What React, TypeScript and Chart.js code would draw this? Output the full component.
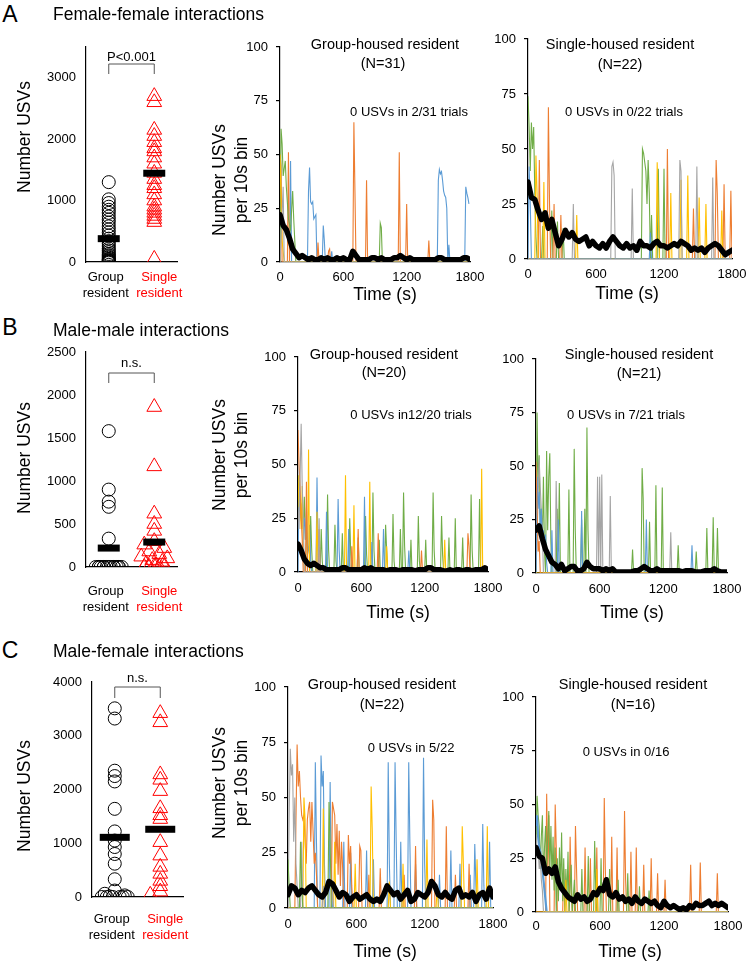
import React, { useEffect, useRef } from "react";
import { Chart, registerables } from "chart.js";

Chart.register(...registerables);

const FONT = '"Liberation Sans", Arial, Helvetica, sans-serif';
Chart.defaults.font.family = FONT;
Chart.defaults.color = "#000";

const C_BLUE = "#5B9BD5";
const C_ORANGE = "#ED7D31";
const C_GRAY = "#A5A5A5";
const C_YELLOW = "#FFC000";
const C_GREEN = "#70AD47";

// ---------- scatter (total USVs per trial) ----------
const GROUP_LABEL = ["Group", "resident"];
const SINGLE_LABEL = ["Single", "resident"];

const A_Y_TICKS = [0, 1000, 2000, 3000];
const B_Y_TICKS = [0, 500, 1000, 1500, 2000, 2500];
const C_Y_TICKS = [0, 1000, 2000, 3000, 4000];
const T_X_TICKS = [0, 600, 1200, 1800];
const T_Y_TICKS = [0, 25, 50, 75, 100];

const A_GROUP = [1300, 1020, 960, 900, 850, 800, 740, 690, 640, 580, 530, 480, 430, 380, 340, 300, 260, 220, 190, 160, 130, 110, 90, 70, 50, 40, 30, 20, 10, 0, 0];
const A_SINGLE = [2700, 2600, 2150, 2050, 1950, 1850, 1800, 1700, 1600, 1450, 1350, 1250, 1200, 1100, 1000, 900, 850, 800, 750, 700, 650, 50];
const A_GROUP_MEAN = 380;
const A_SINGLE_MEAN = 1445;

const B_GROUP = [1580, 900, 760, 700, 330, 0, 0, 0, 0, 0, 0, 0, 0, 0, 0, 0, 0, 0, 0, 0];
const B_SINGLE = [1860, 1170, 620, 500, 420, 300, 260, 220, 180, 150, 120, 100, 80, 60, 40, 20, 10, 0, 0, 0, 0];
const B_GROUP_MEAN = 220;
const B_SINGLE_MEAN = 290;

const C_GROUP = [3510, 3320, 2350, 2250, 2150, 1640, 1220, 1050, 930, 800, 620, 330, 120, 60, 30, 10, 0, 0, 0, 0, 0, 0];
const C_SINGLE = [3420, 3250, 2280, 2180, 1970, 1650, 1520, 1450, 1020, 770, 560, 430, 300, 200, 100, 40];
const C_GROUP_MEAN = 1110;
const C_SINGLE_MEAN = 1260;

// ---------- time courses (USVs per 10 s bin) ----------
const BIN_T = [0, 30, 60, 90, 120, 150, 180, 210, 240, 270, 300, 330, 360, 390, 420, 450, 480, 510, 540, 570, 600, 630, 660, 690, 720, 750, 780, 810, 840, 870, 900, 930, 960, 990, 1020, 1050, 1080, 1110, 1140, 1170, 1200, 1230, 1260, 1290, 1320, 1350, 1380, 1410, 1440, 1470, 1500, 1530, 1560, 1590, 1620, 1650, 1680, 1710, 1740, 1770, 1800];

const A1_MEAN = [22, 17, 15, 11, 6, 4, 2, 3, 2, 1, 2, 1, 1, 2, 1, 2, 1, 1, 2, 1, 2, 1, 1, 5, 3, 1, 1, 1, 1, 2, 2, 1, 2, 1, 1, 1, 2, 2, 3, 2, 1, 2, 1, 1, 1, 1, 1, 1, 1, 1, 2, 2, 1, 1, 1, 1, 1, 1, 2, 2, 1];
const A2_MEAN = [35, 28, 27, 22, 18, 21, 14, 18, 12, 6, 9, 13, 10, 12, 9, 8, 9, 10, 6, 8, 6, 5, 7, 5, 8, 10, 8, 6, 5, 7, 5, 6, 4, 8, 6, 6, 5, 7, 8, 6, 6, 5, 6, 7, 6, 8, 7, 6, 4, 5, 4, 5, 3, 5, 6, 7, 6, 4, 2, 3, 4];
const B1_MEAN = [13, 10, 6, 4, 3, 4, 3, 2, 2, 1, 1, 1, 1, 1, 2, 2, 1, 1, 1, 1, 1, 2, 1, 2, 1, 1, 1, 1, 0.5, 1, 1, 1, 0.5, 1, 1, 1, 1, 0.5, 1, 1, 1, 2, 2, 1, 1, 1, 0.5, 0.5, 1, 0.5, 1, 1, 0.5, 1, 1, 0.5, 1, 1, 1, 2, 1];
const B2_MEAN = [20, 22, 16, 11, 8, 5, 4, 2, 4, 1, 2, 3, 3, 1, 1, 2, 5, 3, 2, 2, 2, 1, 2, 1, 2, 0.5, 0.5, 0.5, 0.5, 0.5, 0.5, 1, 1, 2, 3, 2, 1, 1, 2, 1, 1, 1, 1, 1, 1, 1, 0.5, 1, 1, 1, 0.5, 0.5, 0.5, 1, 1, 1, 2, 1, 0.5, 0.5, 0.5];
const C1_MEAN = [6, 10, 9, 6, 8, 7, 9, 10, 8, 6, 5, 7, 12, 11, 8, 5, 7, 6, 3, 5, 6, 4, 5, 6, 4, 3, 4, 3, 6, 10, 8, 6, 7, 4, 6, 8, 3, 4, 7, 6, 5, 7, 12, 10, 6, 5, 7, 5, 4, 8, 9, 5, 6, 5, 7, 3, 6, 7, 4, 9, 5];
const C2_MEAN = [30, 26, 25, 18, 20, 18, 21, 14, 11, 9, 7, 6, 5, 8, 6, 7, 5, 6, 9, 8, 11, 10, 15, 8, 7, 9, 6, 7, 5, 6, 4, 7, 5, 4, 6, 5, 4, 5, 3, 2, 5, 3, 2, 3, 2, 1, 2, 1, 3, 2, 4, 3, 3, 4, 5, 3, 4, 3, 4, 3, 2];

// individual trials: [time, count, time, count, ...]
const A1_ORANGE = [0, 50, 10, 45, 20, 0, 70, 0, 80, 51, 90, 0, 350, 0, 360, 9, 370, 0, 450, 0, 460, 5, 470, 6, 480, 0, 690, 0, 700, 65, 710, 33, 720, 0, 810, 0, 820, 38, 830, 0, 1120, 0, 1130, 51, 1140, 0, 1190, 0, 1200, 27, 1210, 0, 1400, 0, 1410, 10, 1420, 0, 1800, 0];
const A1_BLUE = [0, 0, 90, 0, 100, 47, 110, 0, 260, 0, 270, 33, 280, 44, 290, 28, 300, 27, 310, 28, 320, 20, 340, 22, 350, 0, 400, 0, 410, 17, 420, 10, 430, 0, 480, 0, 490, 5, 500, 0, 1490, 0, 1500, 38, 1510, 43, 1520, 41, 1530, 42, 1540, 38, 1550, 33, 1560, 31, 1570, 30, 1580, 25, 1590, 0, 1600, 8, 1610, 0, 1750, 0, 1760, 35, 1770, 32, 1780, 30, 1790, 27];
const A1_GREEN = [0, 0, 10, 62, 20, 55, 30, 40, 50, 47, 60, 35, 80, 20, 100, 15, 120, 33, 130, 20, 150, 0, 940, 0, 950, 18, 960, 16, 970, 0, 1800, 0];
const A1_YELLOW = [0, 50, 10, 30, 20, 10, 40, 0, 1800, 0];
const A1_GRAY = [0, 0, 30, 35, 40, 0, 1800, 0];

const A2_GREEN = [0, 74, 10, 60, 20, 40, 30, 62, 40, 50, 50, 60, 60, 30, 70, 10, 80, 0, 120, 0, 130, 15, 140, 0, 200, 0, 210, 22, 220, 0, 250, 0, 260, 17, 270, 0, 300, 0, 310, 14, 320, 0, 1000, 0, 1010, 50, 1020, 48, 1030, 44, 1040, 40, 1050, 25, 1060, 45, 1070, 30, 1080, 0, 1090, 20, 1100, 0, 1140, 0, 1150, 41, 1160, 0, 1190, 0, 1200, 41, 1210, 0, 1800, 0];
const A2_ORANGE = [0, 0, 90, 0, 100, 45, 110, 0, 170, 0, 180, 69, 190, 25, 200, 0, 220, 0, 230, 25, 240, 0, 280, 0, 290, 20, 300, 0, 1220, 0, 1230, 50, 1240, 0, 1450, 0, 1460, 23, 1470, 0, 1650, 0, 1660, 45, 1670, 30, 1680, 0, 1720, 0, 1730, 34, 1740, 0, 1780, 0, 1790, 31, 1800, 0];
const A2_YELLOW = [0, 0, 60, 0, 70, 47, 80, 30, 90, 0, 130, 0, 140, 35, 150, 0, 420, 0, 430, 20, 440, 0, 1130, 0, 1140, 44, 1150, 20, 1160, 0, 1250, 0, 1260, 30, 1270, 0, 1340, 0, 1350, 36, 1360, 0, 1400, 0, 1410, 38, 1420, 0, 1500, 0, 1510, 28, 1520, 0, 1560, 0, 1570, 25, 1580, 0, 1700, 0, 1710, 22, 1720, 0, 1800, 0];
const A2_GRAY = [0, 0, 390, 0, 400, 25, 410, 0, 730, 0, 740, 42, 750, 44, 760, 38, 770, 0, 910, 0, 920, 32, 930, 0, 1330, 0, 1340, 45, 1350, 40, 1360, 0, 1480, 0, 1490, 42, 1500, 0, 1620, 0, 1630, 37, 1640, 0, 1800, 0];
const A2_BLUE = [0, 0, 10, 42, 20, 25, 30, 0, 1070, 0, 1080, 12, 1090, 0, 1800, 0];

const B1_GRAY = [0, 30, 10, 20, 30, 69, 40, 40, 50, 25, 60, 0, 190, 0, 200, 25, 210, 0, 1800, 0];
const B1_ORANGE = [0, 66, 10, 50, 20, 40, 30, 25, 40, 15, 50, 0, 70, 0, 80, 42, 90, 0, 190, 0, 200, 20, 210, 0, 500, 0, 510, 12, 520, 0, 560, 0, 570, 20, 580, 0, 750, 0, 760, 18, 770, 0, 1160, 0, 1170, 10, 1180, 0, 1600, 0, 1610, 18, 1620, 12, 1630, 0, 1800, 0];
const B1_YELLOW = [0, 45, 10, 30, 20, 35, 30, 20, 40, 40, 50, 10, 60, 0, 90, 0, 100, 57, 110, 0, 170, 0, 180, 28, 190, 0, 440, 0, 450, 45, 460, 0, 520, 0, 530, 31, 540, 0, 670, 0, 680, 42, 690, 0, 830, 0, 840, 12, 850, 0, 1380, 0, 1390, 15, 1400, 0, 1730, 0, 1740, 48, 1750, 0, 1800, 0];
const B1_BLUE = [0, 0, 10, 40, 20, 30, 30, 25, 40, 32, 50, 20, 60, 25, 70, 15, 80, 30, 90, 12, 100, 10, 110, 22, 120, 5, 130, 0, 170, 0, 180, 44, 190, 10, 200, 0, 260, 0, 270, 28, 280, 0, 370, 0, 380, 34, 390, 10, 400, 0, 470, 0, 480, 20, 490, 0, 620, 0, 630, 35, 640, 0, 690, 0, 700, 14, 710, 0, 800, 0, 810, 20, 820, 0, 1040, 0, 1050, 10, 1060, 0, 1800, 0];
const B1_GREEN = [0, 25, 10, 45, 20, 30, 30, 25, 40, 28, 50, 20, 60, 35, 70, 15, 80, 20, 90, 0, 110, 0, 120, 26, 130, 10, 140, 0, 210, 0, 220, 20, 230, 5, 240, 0, 270, 0, 280, 36, 290, 10, 300, 0, 340, 0, 350, 22, 360, 5, 370, 0, 410, 0, 420, 18, 430, 0, 480, 0, 490, 25, 500, 8, 510, 0, 560, 0, 570, 16, 580, 0, 630, 0, 640, 26, 650, 8, 660, 0, 700, 0, 710, 37, 720, 10, 730, 0, 760, 0, 770, 15, 780, 0, 820, 0, 830, 22, 840, 10, 850, 0, 890, 0, 900, 27, 910, 5, 920, 0, 960, 0, 970, 20, 980, 0, 990, 0, 1000, 37, 1010, 12, 1020, 0, 1060, 0, 1070, 15, 1080, 0, 1130, 0, 1140, 26, 1150, 5, 1160, 0, 1200, 0, 1210, 15, 1220, 0, 1270, 0, 1280, 37, 1290, 10, 1300, 0, 1350, 0, 1360, 26, 1370, 8, 1380, 0, 1420, 0, 1430, 16, 1440, 0, 1480, 0, 1490, 25, 1500, 0, 1550, 0, 1560, 16, 1570, 0, 1630, 0, 1640, 36, 1650, 10, 1660, 0, 1710, 0, 1720, 34, 1730, 0, 1800, 0];

const B2_GREEN = [0, 0, 10, 75, 20, 40, 30, 55, 40, 20, 50, 30, 60, 15, 70, 45, 80, 10, 90, 0, 100, 57, 110, 20, 120, 45, 130, 56, 140, 15, 150, 0, 190, 0, 200, 30, 210, 10, 220, 42, 230, 0, 300, 0, 310, 39, 320, 0, 350, 0, 360, 58, 370, 20, 380, 0, 420, 0, 430, 25, 440, 0, 450, 0, 460, 30, 470, 0, 480, 68, 490, 20, 500, 0, 900, 0, 910, 11, 920, 0, 990, 0, 1000, 49, 1010, 35, 1020, 0, 1060, 0, 1070, 24, 1080, 0, 1120, 0, 1130, 41, 1140, 0, 1180, 0, 1190, 40, 1200, 0, 1330, 0, 1340, 13, 1350, 0, 1500, 0, 1510, 10, 1520, 0, 1600, 0, 1610, 21, 1620, 0, 1660, 0, 1670, 26, 1680, 0, 1700, 0, 1710, 21, 1720, 0, 1800, 0];
const B2_GRAY = [0, 0, 30, 53, 40, 40, 50, 30, 60, 20, 70, 0, 180, 0, 190, 43, 200, 20, 210, 0, 570, 0, 580, 45, 590, 0, 600, 45, 610, 0, 620, 46, 630, 0, 690, 0, 700, 36, 710, 0, 1260, 0, 1270, 19, 1280, 0, 1800, 0];
const B2_ORANGE = [0, 52, 10, 30, 20, 10, 30, 15, 40, 0, 1800, 0];
const B2_BLUE = [0, 0, 10, 45, 20, 30, 30, 38, 40, 20, 50, 30, 60, 15, 70, 20, 80, 10, 90, 18, 100, 5, 110, 0, 140, 0, 150, 20, 160, 0, 200, 0, 210, 25, 220, 0, 420, 0, 430, 29, 440, 0, 1030, 0, 1040, 25, 1050, 0, 1460, 0, 1470, 13, 1480, 0, 1800, 0];
const B2_YELLOW = [0, 0, 1800, 0];

const C1_GRAY = [0, 0, 10, 40, 20, 72, 30, 60, 40, 65, 50, 30, 60, 50, 70, 20, 80, 10, 90, 0, 110, 0, 120, 30, 130, 0, 300, 0, 310, 10, 320, 0, 380, 0, 390, 8, 400, 0, 1800, 0];
const C1_ORANGE = [0, 0, 60, 0, 70, 40, 80, 74, 90, 55, 100, 62, 110, 50, 120, 42, 130, 40, 140, 42, 150, 30, 160, 20, 170, 40, 180, 45, 190, 48, 200, 30, 210, 48, 220, 35, 230, 20, 240, 25, 250, 15, 260, 0, 380, 0, 390, 48, 400, 45, 410, 42, 420, 20, 430, 38, 440, 15, 450, 35, 460, 10, 470, 30, 480, 18, 490, 0, 520, 0, 530, 33, 540, 20, 550, 28, 560, 10, 570, 0, 620, 0, 630, 28, 640, 26, 650, 0, 700, 0, 710, 15, 720, 0, 800, 0, 810, 18, 820, 0, 1010, 0, 1020, 15, 1030, 0, 1110, 0, 1120, 28, 1130, 0, 1260, 0, 1270, 49, 1280, 40, 1290, 0, 1380, 0, 1390, 37, 1400, 0, 1460, 0, 1470, 15, 1480, 0, 1580, 0, 1590, 20, 1600, 0, 1800, 0];
const C1_BLUE = [0, 0, 230, 0, 240, 66, 250, 30, 260, 0, 280, 0, 290, 69, 300, 55, 310, 62, 320, 20, 330, 0, 360, 0, 370, 57, 380, 20, 390, 0, 480, 0, 490, 30, 500, 0, 540, 0, 550, 25, 560, 0, 680, 0, 690, 26, 700, 0, 740, 0, 750, 22, 760, 0, 870, 0, 880, 66, 890, 20, 900, 0, 930, 0, 940, 66, 950, 30, 960, 0, 980, 0, 990, 30, 1000, 0, 1050, 0, 1060, 66, 1070, 30, 1080, 0, 1110, 0, 1120, 20, 1130, 0, 1180, 0, 1190, 68, 1200, 20, 1210, 0, 1320, 0, 1330, 15, 1340, 0, 1420, 0, 1430, 26, 1440, 0, 1500, 0, 1510, 20, 1520, 0, 1590, 0, 1600, 15, 1610, 0, 1630, 0, 1640, 29, 1650, 10, 1660, 0, 1700, 0, 1710, 38, 1720, 10, 1730, 0, 1760, 0, 1770, 30, 1780, 0, 1800, 0];
const C1_YELLOW = [0, 0, 130, 0, 140, 50, 150, 40, 160, 0, 300, 0, 310, 45, 320, 0, 400, 0, 410, 30, 420, 0, 580, 0, 590, 20, 600, 0, 720, 0, 730, 55, 740, 35, 750, 0, 880, 0, 890, 12, 900, 0, 1000, 0, 1010, 20, 1020, 0, 1210, 0, 1220, 31, 1230, 0, 1300, 0, 1310, 10, 1320, 0, 1520, 0, 1530, 37, 1540, 20, 1550, 0, 1650, 0, 1660, 22, 1670, 0, 1740, 0, 1750, 37, 1760, 0, 1800, 0];
const C1_GREEN = [0, 22, 10, 10, 20, 0, 100, 0, 110, 30, 120, 10, 130, 0, 350, 0, 360, 48, 370, 30, 380, 0, 1800, 0];

const C2_BLUE = [0, 40, 10, 45, 20, 35, 30, 30, 40, 28, 50, 22, 60, 20, 70, 15, 80, 10, 90, 5, 100, 0, 1800, 0];
const C2_GRAY = [0, 36, 10, 25, 20, 30, 30, 20, 40, 25, 50, 15, 60, 10, 70, 0, 1800, 0];
const C2_GREEN = [0, 30, 10, 54, 20, 45, 30, 40, 40, 20, 50, 35, 60, 45, 70, 15, 80, 30, 90, 40, 100, 20, 110, 35, 120, 47, 130, 20, 140, 40, 150, 15, 160, 35, 170, 10, 180, 30, 190, 0, 200, 25, 210, 5, 220, 30, 230, 10, 240, 37, 250, 5, 260, 25, 270, 0, 280, 20, 290, 5, 300, 28, 310, 0, 330, 22, 340, 0, 360, 15, 370, 0, 420, 0, 430, 20, 440, 0, 480, 0, 490, 26, 500, 0, 540, 0, 550, 33, 560, 10, 570, 0, 600, 0, 610, 25, 620, 0, 680, 0, 690, 20, 700, 0, 760, 0, 770, 15, 780, 0, 850, 0, 860, 18, 870, 0, 960, 0, 970, 12, 980, 0, 1050, 0, 1060, 10, 1070, 0, 1800, 0];
const C2_ORANGE = [0, 0, 90, 0, 100, 55, 110, 20, 120, 45, 130, 0, 170, 0, 180, 50, 190, 30, 200, 0, 250, 0, 260, 20, 270, 0, 310, 0, 320, 35, 330, 10, 340, 0, 360, 0, 370, 40, 380, 20, 390, 0, 450, 0, 460, 30, 470, 0, 500, 0, 510, 25, 520, 0, 560, 0, 570, 30, 580, 0, 630, 0, 640, 53, 650, 20, 660, 0, 700, 0, 710, 35, 720, 0, 750, 0, 760, 30, 770, 0, 820, 0, 830, 47, 840, 15, 850, 0, 880, 0, 890, 28, 900, 0, 930, 0, 940, 30, 950, 0, 1000, 0, 1010, 22, 1020, 0, 1070, 0, 1080, 25, 1090, 0, 1130, 0, 1140, 18, 1150, 0, 1200, 0, 1210, 15, 1220, 0, 1440, 0, 1450, 22, 1460, 0, 1530, 0, 1540, 23, 1550, 0, 1690, 0, 1700, 18, 1710, 0, 1800, 0];
const C2_YELLOW = [0, 0, 270, 0, 280, 15, 290, 0, 560, 0, 570, 20, 580, 0, 1800, 0];

// ---------- helpers ----------
type Rect = { l: number; t: number; r: number; b: number };
type Box = { x: number; y: number; w: number; h: number };

function pairs(a: number[]) {
  const o: { x: number; y: number }[] = [];
  for (let i = 0; i + 1 < a.length; i += 2) o.push({ x: a[i], y: a[i + 1] });
  return o;
}

const plain = (v: any) => String(v);

const YW = 45, PT = 20, PR = 30, XH = 34;

function timeChart(rect: Rect, traces: [string, number[], number?][], mean: number[], xPad: number) {
  const box: Box = { x: rect.l - YW, y: rect.t - PT, w: rect.r - rect.l + YW + PR, h: rect.b - rect.t + PT + XH };
  const datasets: any[] = [
    {
      data: BIN_T.map((t, i) => ({ x: t, y: mean[i] })),
      borderColor: "#000",
      borderWidth: 5.5,
      borderJoinStyle: "round",
      borderCapStyle: "round",
    },
    ...traces.map(([color, pts, w]) => ({ data: pairs(pts), borderColor: color, borderWidth: w ?? 1.1 })),
  ].map((d) => ({ ...d, pointRadius: 0, fill: false, tension: 0 }));
  const config: any = {
    type: "line",
    data: { datasets },
    options: {
      animation: false,
      responsive: false,
      maintainAspectRatio: false,
      layout: { padding: { left: 0, top: PT, right: PR, bottom: 0 } },
      plugins: { legend: { display: false }, tooltip: { enabled: false } },
      scales: {
        x: {
          type: "linear",
          min: 0,
          max: 1800,
          afterBuildTicks: (s: any) => { s.ticks = T_X_TICKS.map((v) => ({ value: v })); },
          ticks: { padding: xPad, font: { size: 13 }, color: "#000", maxRotation: 0, autoSkip: false, callback: plain },
          grid: { display: false, drawTicks: false, tickLength: 0 },
          border: { display: true, color: "#000", width: 1.2 },
          afterFit: (s: any) => { s.height = XH; },
        },
        y: {
          type: "linear",
          min: 0,
          max: 100,
          afterBuildTicks: (s: any) => { s.ticks = T_Y_TICKS.map((v) => ({ value: v })); },
          ticks: { padding: 8, font: { size: 13 }, color: "#000", callback: plain },
          grid: { display: true, drawOnChartArea: false, drawTicks: true, tickLength: 4, color: "#000", lineWidth: 1.2 },
          border: { display: true, color: "#000", width: 1.2 },
          afterFit: (s: any) => { s.width = YW; },
        },
      },
    },
  };
  return { box, config };
}

const SYW = 52, SPT = 24, SPR = 34, SXH = 52;

const bracketPlugin = {
  id: "bracket",
  afterDraw(chart: any, _args: any, opts: any) {
    const { ctx, chartArea, scales } = chart;
    const x1 = scales.x.getPixelForValue(0.5);
    const x2 = scales.x.getPixelForValue(1.5);
    const yT = chartArea.top + opts.top;
    const yL = chartArea.top + opts.leg;
    ctx.save();
    ctx.strokeStyle = "#555";
    ctx.lineWidth = 1;
    ctx.beginPath();
    ctx.moveTo(x1, yL);
    ctx.lineTo(x1, yT);
    ctx.lineTo(x2, yT);
    ctx.lineTo(x2, yL);
    ctx.stroke();
    ctx.fillStyle = "#000";
    ctx.font = `13px ${FONT}`;
    ctx.textAlign = "center";
    ctx.textBaseline = "middle";
    ctx.fillText(opts.text, (x1 + x2) / 2, chartArea.top + opts.textY);
    ctx.restore();
  },
};

function scatterChart(
  rect: Rect,
  group: number[],
  single: number[],
  gMean: number,
  sMean: number,
  yTicks: number[],
  yMax: number,
  labelPad: number,
  barHalfPx: number,
  spreadBelow: number,
  bracket: { top: number; leg: number; textY: number; text: string }
) {
  const box: Box = { x: rect.l - SYW, y: rect.t - SPT, w: rect.r - rect.l + SYW + SPR, h: rect.b - rect.t + SPT + SXH };
  const u = 2 / (rect.r - rect.l);
  const spread = [0, -10, 10, -5, 5, -13, 13, -2, 8, -8, 2];
  const place = (vals: number[], cx: number) => {
    let k = 0;
    return vals.map((v) => {
      let dx = 0;
      if (v < spreadBelow) {
        dx = spread[k % spread.length];
        k++;
      }
      return { x: cx + dx * u, y: v };
    });
  };
  const bar = (cx: number, m: number) => ({
    data: [{ x: cx - barHalfPx * u, y: m }, { x: cx + barHalfPx * u, y: m }],
    showLine: true,
    borderColor: "#000",
    borderWidth: 7,
    borderCapStyle: "butt",
    pointRadius: 0,
  });
  const gLab = 0.5 - 3 * u;
  const sLab = 1.5 + 5 * u;
  const config: any = {
    type: "scatter",
    data: {
      datasets: [
        bar(0.5, gMean),
        bar(1.5, sMean),
        {
          data: place(group, 0.5),
          pointStyle: "circle",
          pointRadius: 6.5,
          borderColor: "#000",
          backgroundColor: "rgba(0,0,0,0)",
          borderWidth: 1,
          showLine: false,
        },
        {
          data: place(single, 1.5),
          pointStyle: "triangle",
          pointRadius: 8.5,
          borderColor: "#FF0000",
          backgroundColor: "rgba(0,0,0,0)",
          borderWidth: 1,
          showLine: false,
        },
      ],
    },
    options: {
      animation: false,
      responsive: false,
      maintainAspectRatio: false,
      layout: { padding: { left: 0, top: SPT, right: SPR, bottom: 0 } },
      plugins: { legend: { display: false }, tooltip: { enabled: false }, bracket },
      scales: {
        x: {
          type: "linear",
          min: 0,
          max: 2,
          afterBuildTicks: (s: any) => { s.ticks = [{ value: gLab }, { value: sLab }]; },
          ticks: {
            padding: labelPad,
            font: { size: 13 },
            color: (c: any) => (c.tick && c.tick.value > 1 ? "#FF0000" : "#000"),
            callback: (v: number) => (v < 1 ? GROUP_LABEL : SINGLE_LABEL),
            maxRotation: 0,
            autoSkip: false,
          },
          grid: { display: false, drawTicks: false, tickLength: 0 },
          border: { display: true, color: "#000", width: 1.2 },
          afterFit: (s: any) => { s.height = SXH; },
        },
        y: {
          type: "linear",
          min: 0,
          max: yMax,
          afterBuildTicks: (s: any) => { s.ticks = yTicks.map((v) => ({ value: v })); },
          ticks: { padding: 10, font: { size: 13 }, color: "#000", callback: plain },
          grid: { display: false, drawTicks: false, tickLength: 0 },
          border: { display: true, color: "#000", width: 1.2 },
          afterFit: (s: any) => { s.width = SYW; },
        },
      },
    },
    plugins: [bracketPlugin],
  };
  return { box, config };
}

// ---------- panels ----------
const CHARTS = [
  scatterChart({ l: 86, t: 47, r: 177, b: 262 }, A_GROUP, A_SINGLE, A_GROUP_MEAN, A_SINGLE_MEAN, A_Y_TICKS, 3500, 8, 11, -1,
    { top: 17, leg: 27, textY: 10, text: "P<0.001" }),
  scatterChart({ l: 86, t: 352, r: 177, b: 567 }, B_GROUP, B_SINGLE, B_GROUP_MEAN, B_SINGLE_MEAN, B_Y_TICKS, 2500, 17, 11, 350,
    { top: 21, leg: 31, textY: 11, text: "n.s." }),
  scatterChart({ l: 92, t: 682, r: 183, b: 897 }, C_GROUP, C_SINGLE, C_GROUP_MEAN, C_SINGLE_MEAN, C_Y_TICKS, 4000, 15, 15, 150,
    { top: 5, leg: 16, textY: -4, text: "n.s." }),
  timeChart({ l: 280, t: 47, r: 470, b: 262 },
    [[C_GRAY, A1_GRAY], [C_YELLOW, A1_YELLOW], [C_GREEN, A1_GREEN], [C_ORANGE, A1_ORANGE], [C_BLUE, A1_BLUE]], A1_MEAN, 8),
  timeChart({ l: 528, t: 39, r: 732, b: 259 },
    [[C_BLUE, A2_BLUE], [C_GRAY, A2_GRAY], [C_YELLOW, A2_YELLOW], [C_ORANGE, A2_ORANGE], [C_GREEN, A2_GREEN]], A2_MEAN, 8),
  timeChart({ l: 298, t: 357, r: 488, b: 572 },
    [[C_GRAY, B1_GRAY], [C_ORANGE, B1_ORANGE], [C_YELLOW, B1_YELLOW], [C_BLUE, B1_BLUE], [C_GREEN, B1_GREEN]], B1_MEAN, 9),
  timeChart({ l: 536, t: 359, r: 727, b: 573 },
    [[C_YELLOW, B2_YELLOW], [C_ORANGE, B2_ORANGE], [C_BLUE, B2_BLUE], [C_GRAY, B2_GRAY], [C_GREEN, B2_GREEN]], B2_MEAN, 9),
  timeChart({ l: 288, t: 687, r: 493, b: 908 },
    [[C_GREEN, C1_GREEN], [C_GRAY, C1_GRAY], [C_YELLOW, C1_YELLOW], [C_ORANGE, C1_ORANGE], [C_BLUE, C1_BLUE]], C1_MEAN, 9),
  timeChart({ l: 536, t: 697, r: 728, b: 912 },
    [[C_YELLOW, C2_YELLOW], [C_GRAY, C2_GRAY], [C_BLUE, C2_BLUE, 2.2], [C_GREEN, C2_GREEN], [C_ORANGE, C2_ORANGE]], C2_MEAN, 7),
];

type T = { s: string; x: number; y: number; size: number; rot?: boolean; left?: boolean; color?: string };

const TEXTS: T[] = [
  { s: "A", x: 10, y: 14, size: 23 },
  { s: "B", x: 10, y: 327, size: 23 },
  { s: "C", x: 10, y: 650, size: 23 },
  { s: "Female-female interactions", x: 53, y: 15, size: 17.5, left: true },
  { s: "Male-male interactions", x: 53, y: 331, size: 17.5, left: true },
  { s: "Male-female interactions", x: 53, y: 652, size: 17.5, left: true },
  { s: "Number USVs", x: 25, y: 137, size: 17.5, rot: true },
  { s: "Number USVs", x: 25, y: 458, size: 17.5, rot: true },
  { s: "Number USVs", x: 25, y: 796, size: 17.5, rot: true },
  { s: "Number USVs", x: 220, y: 180, size: 17.5, rot: true },
  { s: "per 10s bin", x: 242, y: 180, size: 17.5, rot: true },
  { s: "Number USVs", x: 220, y: 455, size: 17.5, rot: true },
  { s: "per 10s bin", x: 242, y: 455, size: 17.5, rot: true },
  { s: "Number USVs", x: 220, y: 783, size: 17.5, rot: true },
  { s: "per 10s bin", x: 242, y: 783, size: 17.5, rot: true },
  { s: "Time (s)", x: 385, y: 295, size: 17.5 },
  { s: "Time (s)", x: 627, y: 294, size: 17.5 },
  { s: "Time (s)", x: 398, y: 613, size: 17.5 },
  { s: "Time (s)", x: 632, y: 613, size: 17.5 },
  { s: "Time (s)", x: 385, y: 952, size: 17.5 },
  { s: "Time (s)", x: 630, y: 952, size: 17.5 },
  { s: "Group-housed resident", x: 385, y: 44, size: 14.5 },
  { s: "(N=31)", x: 383, y: 62.5, size: 14.5 },
  { s: "Single-housed resident", x: 620, y: 44, size: 14.5 },
  { s: "(N=22)", x: 620, y: 64, size: 14.5 },
  { s: "Group-housed resident", x: 384, y: 354, size: 14.5 },
  { s: "(N=20)", x: 384, y: 372, size: 14.5 },
  { s: "Single-housed resident", x: 639, y: 354, size: 14.5 },
  { s: "(N=21)", x: 639, y: 373, size: 14.5 },
  { s: "Group-housed resident", x: 382, y: 684, size: 14.5 },
  { s: "(N=22)", x: 382, y: 704, size: 14.5 },
  { s: "Single-housed resident", x: 633, y: 684, size: 14.5 },
  { s: "(N=16)", x: 633, y: 704, size: 14.5 },
  { s: "0 USVs in 2/31 trials", x: 409, y: 111, size: 13 },
  { s: "0 USVs in 0/22 trials", x: 624, y: 111, size: 13 },
  { s: "0 USVs in12/20 trials", x: 411, y: 414, size: 13 },
  { s: "0 USVs in 7/21 trials", x: 626, y: 414, size: 13 },
  { s: "0 USVs in 5/22", x: 411, y: 747, size: 13 },
  { s: "0 USVs in 0/16", x: 626, y: 751, size: 13 },
];

function ChartBox({ box, config }: { box: Box; config: any }) {
  const ref = useRef<HTMLCanvasElement | null>(null);
  useEffect(() => {
    if (!ref.current) return;
    const chart = new Chart(ref.current, config);
    return () => chart.destroy();
  }, []);
  return (
    <canvas
      ref={ref}
      width={box.w}
      height={box.h}
      style={{ position: "absolute", left: box.x, top: box.y, width: box.w, height: box.h }}
    />
  );
}

export default function App() {
  return (
    <div
      style={{
        position: "absolute",
        left: 0,
        top: 0,
        width: 748,
        height: 963,
        background: "#fff",
        overflow: "hidden",
        fontFamily: FONT,
        color: "#000",
      }}
    >
      {CHARTS.map((c, i) => (
        <ChartBox key={i} box={c.box} config={c.config} />
      ))}
      {TEXTS.map((t, i) => (
        <div
          key={"t" + i}
          style={{
            position: "absolute",
            left: t.x,
            top: t.y,
            fontSize: t.size,
            lineHeight: 1,
            whiteSpace: "nowrap",
            color: t.color || "#000",
            transform: t.left
              ? "translate(0,-50%)"
              : t.rot
              ? "translate(-50%,-50%) rotate(-90deg)"
              : "translate(-50%,-50%)",
          }}
        >
          {t.s}
        </div>
      ))}
    </div>
  );
}
